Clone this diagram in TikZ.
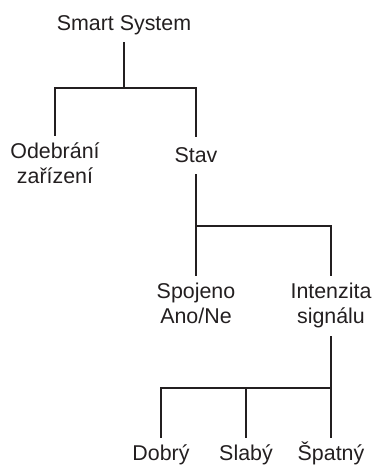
\documentclass[tikz,border=0pt]{standalone}
\usepackage{fontspec}
\setmainfont{Liberation Sans}
\usepackage{tikz}
\usetikzlibrary{calc}
\definecolor{treeink}{HTML}{231F20}

\begin{document}
\begin{tikzpicture}[x=0.5pt,y=-0.5pt,
  lbl/.style={font=\fontsize{10.7}{12.5}\selectfont,text=treeink,align=center,inner sep=0pt,
    anchor=base,text height=11pt,text depth=6pt},
  twoline/.style={lbl,text height=23.5pt,text depth=6.5pt},
  branch/.style={draw=treeink,line width=1.2pt}]
\useasboundingbox (0,0) rectangle (371,467);
% labels (two-line nodes sit on their last baseline)
\node[lbl] (root) at (124,30) {Smart System};
\node[twoline] (odeb) at (55,183) {Odebrání\\zařízení};
\node[lbl,text height=12.5pt] (stav) at (196,162) {Stav};
\node[twoline] (spoj) at (196,323) {Spojeno\\Ano/Ne};
\node[twoline] (intz) at (331,323) {Intenzita\\signálu};
\foreach \x/\name/\txt in {161/dobr/Dobrý, 246/slab/Slabý, 331/spat/Špatný}
  \node[lbl] (\name) at (\x,460) {\txt};
% junctions
\coordinate (j1) at (124,88);
\coordinate (j2) at (196,226);
\coordinate (j3) at (331,388);
% connectors
\draw[branch] (root.south) -- (j1);
\draw[branch] (odeb.north) |- (j1) -| (stav.north);
\draw[branch] (stav.south) -- (spoj.north);
\draw[branch] (j2) -| (intz.north);
\draw[branch] (intz.south) -- (spat.north);
\draw[branch] (j3) -| (dobr.north);
\draw[branch] (slab.north) -- (slab.north |- j3);
\end{tikzpicture}
\end{document}
